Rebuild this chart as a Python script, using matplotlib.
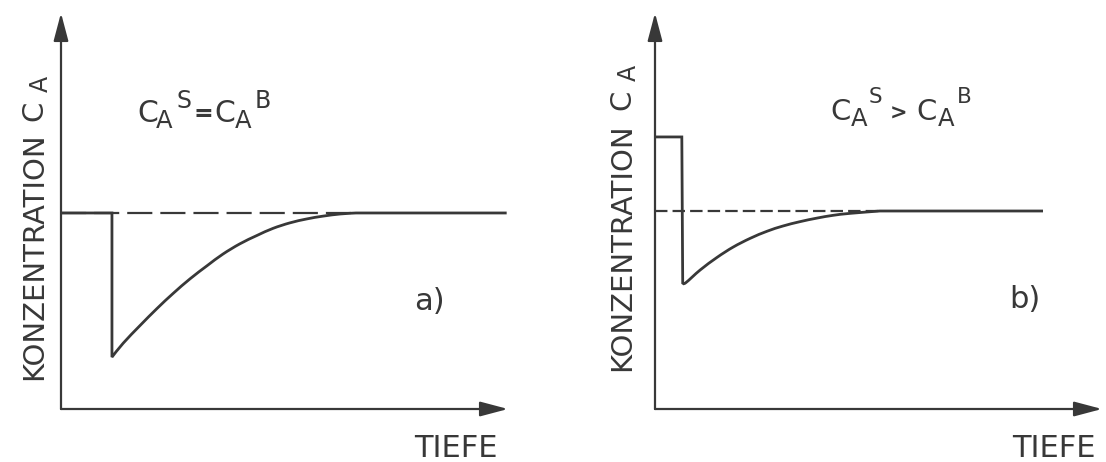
import matplotlib
matplotlib.use("Agg")
import matplotlib.pyplot as plt
from matplotlib.path import Path
from matplotlib.patches import PathPatch

# ---------------- data (depth, concentration in arbitrary units: axis tip = 100) ----------------
# panel a: C_A^S = C_A^B  (surface step/drop, recovery curve, bulk tail)
step_a_depth = [0, 11.4, 11.4]
step_a_conc = [49.5, 49.5, 13.1]
curve_a_depth = [11.4, 13.9, 17.7, 21.5, 25.1, 28.9, 32.7, 36.2, 40.0, 43.8,
                 47.4, 51.2, 55.0, 58.6, 62.5, 66.0]
curve_a_conc = [13.1, 16.6, 21.1, 25.4, 29.2, 32.9, 36.2, 39.1, 41.7, 43.8,
                45.6, 47.0, 48.0, 48.7, 49.25, 49.5]
tail_a_depth = 99.7
bulk_a_depth = [0, 66.0]
bulk_a_conc = [49.5, 49.5]

# panel b: C_A^S > C_A^B
step_b_depth = [0, 6.0, 6.2]
step_b_conc = [68.7, 68.7, 31.8]
curve_b_depth = [6.2, 6.9, 10.1, 13.9, 17.5, 21.3, 25.1, 28.6, 32.4, 36.2,
                 39.8, 43.6, 50.3]
curve_b_conc = [31.8, 31.9, 35.1, 38.3, 40.9, 43.1, 44.9, 46.2, 47.3, 48.2,
                48.9, 49.4, 50.0]
tail_b_depth = 86.8
bulk_b_depth = [0, 50.3]
bulk_b_conc = [50.0, 50.0]

ylabel_word = "KONZENTRATION"
xlabel = "TIEFE"
tag_a = "a)"
tag_b = "b)"

# ---------------- figure ----------------
W, H = 1106, 462
fig = plt.figure(figsize=(W / 100, H / 100), dpi=100)
col = "#383838"
plt.rcParams["font.family"] = ["DejaVu Sans"]


def fx(px):
    return px / W


def fy(py):
    return 1 - py / H


def make_axes(x0):
    ax = fig.add_axes([fx(x0), fy(409), 447 / W, 396 / H])
    ax.set_xlim(0, 100)
    ax.set_ylim(0, 100)
    ax.axis("off")
    ap = dict(arrowstyle="-|>,head_length=1.7,head_width=0.45", lw=1.6,
              color=col, shrinkA=0, shrinkB=0, mutation_scale=10)
    ax.annotate("", xy=(0, 100), xytext=(0, 0), arrowprops=ap, annotation_clip=False)
    ax.annotate("", xy=(100, 0), xytext=(0, 0), arrowprops=ap, annotation_clip=False)
    return ax


def profile_path(sx, sy, cx, cy, tail_x):
    """straight step, smooth (Catmull-Rom -> Bezier) curve through read points, straight tail"""
    verts = [(sx[0], sy[0])]
    codes = [Path.MOVETO]
    for x, y in zip(sx[1:], sy[1:]):
        verts.append((x, y))
        codes.append(Path.LINETO)
    n = len(cx)
    for i in range(n - 1):
        x0, y0 = cx[max(i - 1, 0)], cy[max(i - 1, 0)]
        x1, y1 = cx[i], cy[i]
        x2, y2 = cx[i + 1], cy[i + 1]
        x3, y3 = cx[min(i + 2, n - 1)], cy[min(i + 2, n - 1)]
        verts += [(x1 + (x2 - x0) / 6, y1 + (y2 - y0) / 6),
                  (x2 - (x3 - x1) / 6, y2 - (y3 - y1) / 6),
                  (x2, y2)]
        codes += [Path.CURVE4] * 3
    verts.append((tail_x, cy[-1]))
    codes.append(Path.LINETO)
    return Path(verts, codes)


ax_a = make_axes(61)
ax_a.plot(bulk_a_depth, bulk_a_conc, color=col, lw=1.6, linestyle=(0, (11.3, 3.6)),
          clip_on=False)
ax_a.add_patch(PathPatch(profile_path(step_a_depth, step_a_conc, curve_a_depth,
                                      curve_a_conc, tail_a_depth),
                         fill=False, edgecolor=col, lw=2.0, joinstyle="miter",
                         clip_on=False))

ax_b = make_axes(655)
ax_b.plot(bulk_b_depth, bulk_b_conc, color=col, lw=1.6, linestyle=(0, (5.6, 2.3)),
          clip_on=False)
ax_b.add_patch(PathPatch(profile_path(step_b_depth, step_b_conc, curve_b_depth,
                                      curve_b_conc, tail_b_depth),
                         fill=False, edgecolor=col, lw=2.0, joinstyle="miter",
                         clip_on=False))


def t(px, py, s, size, **kw):
    fig.text(fx(px), fy(py), s, fontsize=size, color=col, ha="left", va="baseline", **kw)


def vt(px, py, s, size):
    fig.text(fx(px), fy(py), s, fontsize=size, color=col, ha="left", va="baseline",
             rotation=90, rotation_mode="anchor")


# y labels (rotated)
vt(42, 380, ylabel_word, 21)
vt(42, 121, "C", 21)
vt(48, 92, "A", 17)
vt(630, 371, ylabel_word, 21)
vt(630, 110, "C", 21)
vt(636, 81, "A", 17)

# x labels
t(414, 457, xlabel, 22)
t(1012, 457, xlabel, 22)

# condition formulas
t(137, 122, "C", 21.5)
t(156, 128, "A", 17.5)
t(176, 108, "S", 17)
t(194, 121, "=", 17, fontweight="bold")
t(214, 122, "C", 21.5)
t(235, 128, "A", 17.5)
t(255, 108, "B", 17)

t(830, 120, "C", 21)
t(851, 126, "A", 17.5)
t(869, 103, "S", 15.5)
t(890, 120, ">", 15, fontweight="bold")
t(916, 120, "C", 21)
t(938, 126, "A", 17.5)
t(957, 103, "B", 15.5)

# panel tags
t(414, 310, tag_a, 22)
t(1009, 308, tag_b, 22)

fig.savefig("out.png", dpi=100)
